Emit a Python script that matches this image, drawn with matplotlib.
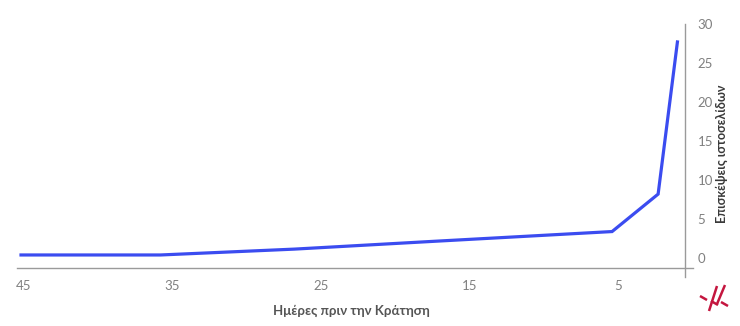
import matplotlib
matplotlib.use("Agg")
import matplotlib.pyplot as plt
from matplotlib.lines import Line2D

# days before booking vs. website visits
days = [45.2, 35.8, 26.8, 17.4, 5.4, 2.3, 1.0]
visits = [0.4, 0.4, 1.15, 2.15, 3.4, 8.2, 27.7]

x_ticks = [45, 35, 25, 15, 5]
y_ticks = [0, 5, 10, 15, 20, 25, 30]

W, H = 740, 326
fig = plt.figure(figsize=(W / 100, H / 100), dpi=100)
plt.rcParams['font.family'] = ['Lato', 'DejaVu Sans']

# axes box in pixels: x 17..685, y 24..268
ax = fig.add_axes([17 / W, 1 - 268 / H, (685 - 17) / W, (268 - 24) / H])

ax.plot(days, visits, color='#3b4cf0', lw=2.3, solid_joinstyle='miter')

ax.set_xlim(45.47, 0.49)
ax.set_ylim(-1.27, 29.62)

for s in ax.spines.values():
    s.set_visible(False)

# bottom line and right line, slightly crossing each other
ax.add_line(Line2D([0, 1.012], [0, 0], transform=ax.transAxes, color='#9a9a9a',
                   lw=1.0, clip_on=False))
ax.add_line(Line2D([1, 1], [-0.037, 1.0], transform=ax.transAxes, color='#9a9a9a',
                   lw=1.0, clip_on=False))

ax.set_xticks(x_ticks)
ax.set_xticklabels([str(t) for t in x_ticks])
ax.set_yticks(y_ticks)
ax.yaxis.tick_right()
ax.tick_params(axis='both', length=0, labelsize=9.5, labelcolor='#808080')
ax.tick_params(axis='x', pad=9)
ax.tick_params(axis='y', pad=9)

ax.set_xlabel('Ημέρες πριν την Κράτηση', fontsize=9.5, color='#555555',
              fontweight='bold', labelpad=9)
fig.text(722 / W, 1 - 154 / H, 'Επισκέψεις ιστοσελίδων', rotation=90,
         ha='center', va='center', fontsize=9, color='#3a3a3a', fontweight='bold')

# little logo bottom right
logo = '#c4163f'
for (x0, y0), (x1, y1) in [((717, 286), (709, 311)), ((725, 285), (717, 304)),
                           ((700, 296), (707, 300)), ((711, 301), (718, 305)),
                           ((721, 302), (728, 306))]:
    fig.add_artist(Line2D([x0 / W, x1 / W], [1 - y0 / H, 1 - y1 / H],
                          color=logo, lw=1.8, solid_capstyle='butt'))

fig.savefig('out.png', dpi=100)
